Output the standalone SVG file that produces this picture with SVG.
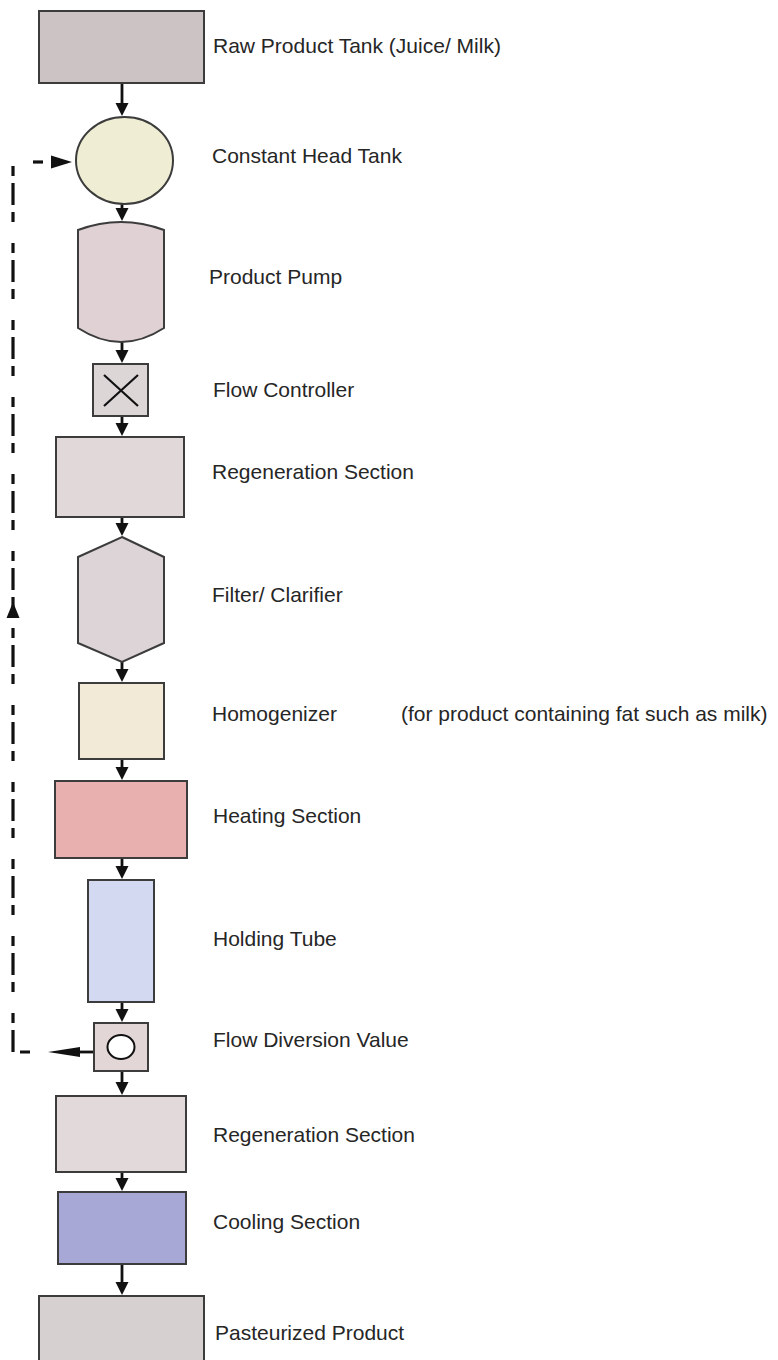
<svg xmlns="http://www.w3.org/2000/svg" width="778" height="1360" viewBox="0 0 778 1360">
<style>
.n{stroke:#3c3c3c;stroke-width:2}
.t{font-family:"Liberation Sans",Arial,sans-serif;font-size:21px;fill:#262626}
.c{stroke:#111;stroke-width:2.8;fill:none}
.d{stroke:#111;stroke-width:3.2;fill:none;stroke-dasharray:10,7,22,7,10,21}
</style>
<defs>
<marker id="ah" markerUnits="userSpaceOnUse" markerWidth="14" markerHeight="14" viewBox="0 0 14 14" refX="7" refY="7" orient="auto">
<path d="M0,0.5 L13,7 L0,13.5 z" fill="#111"/>
</marker>
<marker id="ahl" markerUnits="userSpaceOnUse" markerWidth="32" markerHeight="12" viewBox="0 0 32 12" refX="6" refY="6" orient="auto">
<path d="M0,1 L32,6 L0,11 z" fill="#111"/>
</marker>
</defs>
<g id="connectors">
<line class="c" x1="122" y1="83" x2="122" y2="110" marker-end="url(#ah)"/>
<line class="c" x1="122" y1="204" x2="122" y2="215" marker-end="url(#ah)"/>
<line class="c" x1="122" y1="342" x2="122" y2="357" marker-end="url(#ah)"/>
<line class="c" x1="122" y1="416" x2="122" y2="430" marker-end="url(#ah)"/>
<line class="c" x1="122" y1="517" x2="122" y2="530" marker-end="url(#ah)"/>
<line class="c" x1="122" y1="662" x2="122" y2="676" marker-end="url(#ah)"/>
<line class="c" x1="122" y1="759" x2="122" y2="774" marker-end="url(#ah)"/>
<line class="c" x1="122" y1="858" x2="122" y2="873" marker-end="url(#ah)"/>
<line class="c" x1="122" y1="1002" x2="122" y2="1016" marker-end="url(#ah)"/>
<line class="c" x1="122" y1="1071" x2="122" y2="1089" marker-end="url(#ah)"/>
<line class="c" x1="122" y1="1172" x2="122" y2="1185" marker-end="url(#ah)"/>
<line class="c" x1="122" y1="1264" x2="122" y2="1289" marker-end="url(#ah)"/>
<line class="c" x1="94" y1="1052" x2="74" y2="1052" marker-end="url(#ahl)"/>
<path class="d" d="M30,1052 H13 V162"/>
<line class="d" x1="33" y1="162" x2="46" y2="162" stroke-dasharray="13,100"/>
<path d="M51,155.5 L72,162 L51,168.5 z" fill="#111"/>
<path d="M6.5,618 L13,602 L19.5,618 z" fill="#111"/>
</g>
<g id="raw-tank">
<rect class="n" x="39" y="11" width="165" height="72" fill="#ccc4c4"/>
<text class="t" x="213" y="53">Raw Product Tank (Juice/ Milk)</text>
</g>
<g id="constant-head-tank">
<ellipse class="n" cx="124.5" cy="160.5" rx="48.5" ry="43.5" fill="#efedd4"/>
<text class="t" x="212" y="163">Constant Head Tank</text>
</g>
<g id="product-pump">
<path class="n" d="M78,230 Q121,214 164,230 L164,328 Q121,356 78,328 Z" fill="#dfd1d4"/>
<text class="t" x="209" y="284">Product Pump</text>
</g>
<g id="flow-controller">
<rect class="n" x="93" y="364" width="55" height="52" fill="#dcd6d6"/>
<path d="M104,375 L138,406 M138,375 L104,406" stroke="#111" stroke-width="2.2" fill="none"/>
<text class="t" x="213" y="397">Flow Controller</text>
</g>
<g id="regeneration-1">
<rect class="n" x="56" y="437" width="128" height="80" fill="#e0d8d9"/>
<text class="t" x="212" y="479">Regeneration Section</text>
</g>
<g id="filter-clarifier">
<path class="n" d="M122,537 L164,557 L164,643 L122,662 L78,643 L78,557 Z" fill="#dcd4d6"/>
<text class="t" x="212" y="602">Filter/ Clarifier</text>
</g>
<g id="homogenizer">
<rect class="n" x="79" y="683" width="85" height="76" fill="#f2e9d7"/>
<text class="t" x="212" y="721">Homogenizer</text>
<text class="t" x="401" y="721">(for product containing fat such as milk)</text>
</g>
<g id="heating-section">
<rect class="n" x="55" y="781" width="132" height="77" fill="#e8b0ae"/>
<text class="t" x="213" y="823">Heating Section</text>
</g>
<g id="holding-tube">
<rect class="n" x="88" y="880" width="66" height="122" fill="#d3d9f0"/>
<text class="t" x="213" y="946">Holding Tube</text>
</g>
<g id="flow-diversion-valve">
<rect class="n" x="94" y="1023" width="54" height="48" fill="#e2d6d6"/>
<ellipse cx="121" cy="1047" rx="13.5" ry="12" fill="#fff" stroke="#111" stroke-width="2"/>
<text class="t" x="213" y="1047">Flow Diversion Value</text>
</g>
<g id="regeneration-2">
<rect class="n" x="56" y="1096" width="130" height="76" fill="#e2dada"/>
<text class="t" x="213" y="1142">Regeneration Section</text>
</g>
<g id="cooling-section">
<rect class="n" x="58" y="1192" width="128" height="72" fill="#a8a8d6"/>
<text class="t" x="213" y="1229">Cooling Section</text>
</g>
<g id="pasteurized-product">
<rect class="n" x="39" y="1296" width="165" height="70" fill="#d6d0d0"/>
<text class="t" x="215" y="1340">Pasteurized Product</text>
</g>
</svg>
